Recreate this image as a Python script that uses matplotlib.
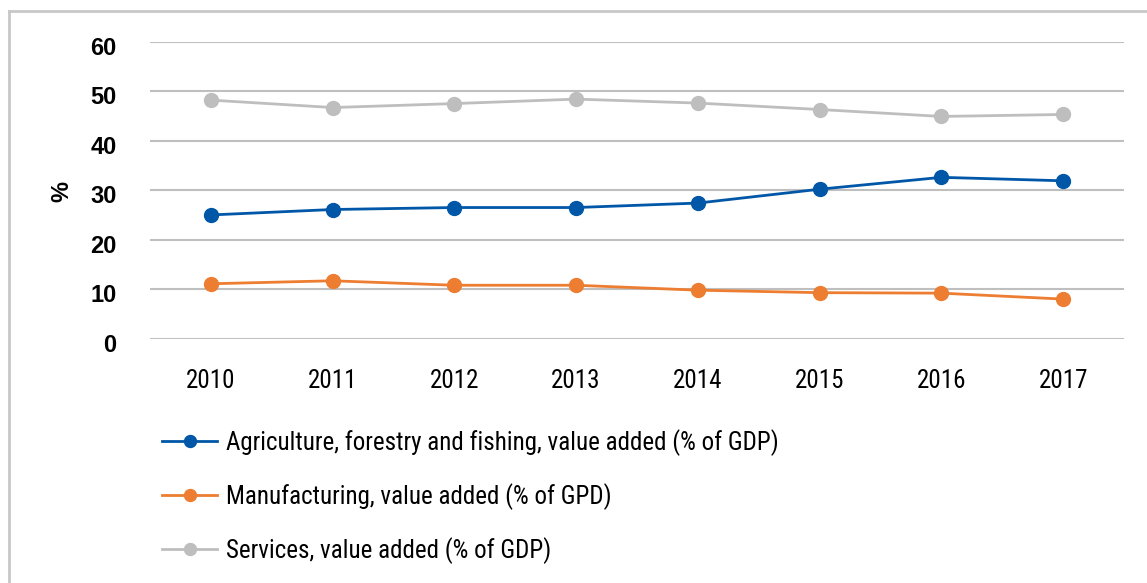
import matplotlib
matplotlib.use('Agg')
import matplotlib.pyplot as plt
import matplotlib.transforms as mtransforms
from matplotlib.lines import Line2D
import numpy as np

years = ['2010', '2011', '2012', '2013', '2014', '2015', '2016', '2017']
agriculture = [25.0, 26.1, 26.5, 26.5, 27.4, 30.2, 32.6, 31.9]
manufacturing = [11.1, 11.7, 10.8, 10.8, 9.8, 9.3, 9.2, 8.0]
services = [48.2, 46.7, 47.5, 48.4, 47.6, 46.3, 44.9, 45.3]

labels = ['Agriculture, forestry and fishing, value added (% of GDP)',
          'Manufacturing, value added (% of GPD)',
          'Services, value added (% of GDP)']
colors = ['#0057A8', '#ED7D31', '#BEBEBE']

narrow = ['Roboto Condensed', 'Archivo Narrow', 'DejaVu Sans']
bold = ['Liberation Sans', 'DejaVu Sans']

W, H = 1147, 583
fig = plt.figure(figsize=(W / 100, H / 100), dpi=100)
ax = fig.add_axes([150 / W, 1 - 338.7 / H, (1124 - 150) / W, (338.7 - 41.7) / H])

x = np.arange(len(years))
for vals, c, lab in zip([agriculture, manufacturing, services], colors, labels):
    ax.plot(x, vals, color=c, lw=2, marker='o', ms=10, label=lab)

ax.set_xlim(-0.5, len(years) - 0.5)
ax.set_ylim(0, 60)
ax.set_yticks(range(0, 61, 10))
ax.set_xticks(x)
ax.set_xticklabels(years, family=narrow, fontsize=18)
ax.set_yticklabels([str(v) for v in range(0, 61, 10)], family=bold,
                   fontweight='bold', fontsize=17)
ax.tick_params(axis='both', length=0)
ax.tick_params(axis='y', pad=24)
ax.tick_params(axis='x', pad=22)
# y labels sit a touch below their gridlines
off = mtransforms.ScaledTranslation(0, -4 / 100, fig.dpi_scale_trans)
for t in ax.get_yticklabels():
    t.set_transform(t.get_transform() + off)

ax.grid(axis='y', color='#BFBFBF', lw=1.5)
ax.set_axisbelow(True)
for s in ax.spines.values():
    s.set_visible(False)

fig.text(62 / W, 1 - 191 / H, '%', family=bold, fontweight='bold', fontsize=17,
         rotation=90, ha='center', va='center')

fig.legend(loc='upper left', bbox_to_anchor=(162 / W, 1 - 429 / H),
           frameon=False, borderaxespad=0, borderpad=0,
           handlelength=2.2, handletextpad=0.36,
           labelspacing=1.09, markerscale=0.86,
           prop={'family': narrow, 'size': 18})

# outer frame (top and left edges)
fig.add_artist(Line2D([9 / W, 1], [1 - 11 / H, 1 - 11 / H], color='#C8C8C8',
                      lw=2, transform=fig.transFigure))
fig.add_artist(Line2D([9 / W, 9 / W], [0, 1 - 11 / H], color='#C8C8C8',
                      lw=2, transform=fig.transFigure))

fig.savefig('out.png', dpi=100)
